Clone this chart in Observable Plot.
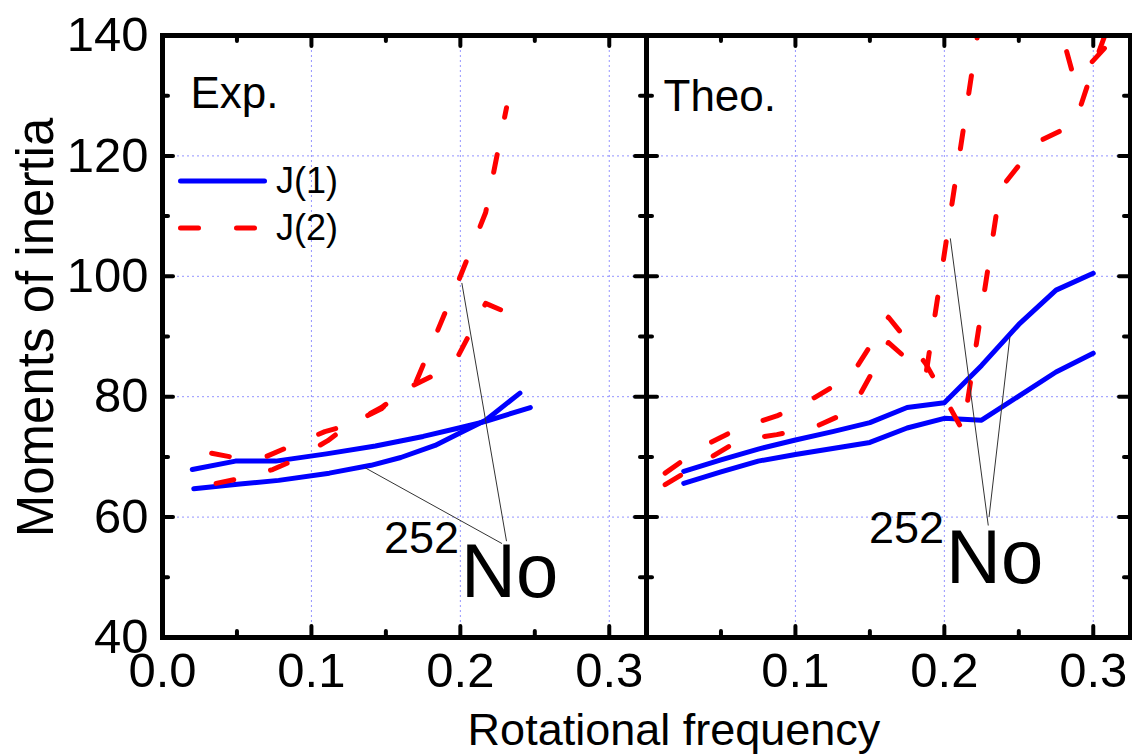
<!DOCTYPE html>
<html>
<head>
<meta charset="utf-8">
<script src="https://cdn.jsdelivr.net/npm/d3@7"></script>
<script src="https://cdn.jsdelivr.net/npm/@observablehq/plot@0.6"></script>
<style>
  html, body { margin: 0; padding: 0; background: #fff; }
  #chart svg { display: block; }
</style>
</head>
<body>
<div id="chart"></div>
<script>
// ---------- data ----------
const panels = ["Exp.", "Theo."];
const xTicks = [0, 0.1, 0.2, 0.3];
const xMinorTicks = [0.05, 0.15, 0.25];
const xTickLabelsExp = [0, 0.1, 0.2, 0.3];
const xTickLabelsTheo = [0.1, 0.2, 0.3];
const yTicks = [40, 60, 80, 100, 120, 140];
const yMinorTicks = [50, 70, 90, 110, 130];
const seriesNames = ["J(1)", "J(2)"];

// Experimental panel: [rotational frequency, moment of inertia]
const expJ1BandA = [[0.020,67.9],[0.049,69.3],[0.076,69.3],[0.11,70.5],[0.143,71.8],[0.175,73.4],[0.199,74.8],[0.217,75.9],[0.247,78.2]];
const expJ1BandB = [[0.021,64.7],[0.052,65.5],[0.078,66.1],[0.112,67.3],[0.14,68.6],[0.16,69.9],[0.183,71.9],[0.199,73.9],[0.217,76.1],[0.240,80.6]];
const expJ2BandA = [[0.033,70.6],[0.05,69.8],[0.07,70.1],[0.086,71.8],[0.109,74.2],[0.125,75.3],[0.147,78.2],[0.17,82.3],[0.2,100],[0.217,110.6],[0.231,128]];
const expJ2BandB = [[0.036,65.6],[0.052,66.4],[0.074,67.9],[0.088,69.4],[0.111,72.7],[0.125,75.3],[0.147,78.0],[0.161,81.0],[0.195,85.1],[0.217,95.5],[0.238,93.3]];

// Theoretical panel
const theoJ1BandA = [[0.025,67.6],[0.05,69.5],[0.075,71.3],[0.1,72.8],[0.125,74.2],[0.15,75.7],[0.175,78.2],[0.2,79.0],[0.225,85.2],[0.25,92.0],[0.275,97.7],[0.3,100.5]];
const theoJ1BandB = [[0.025,65.6],[0.05,67.5],[0.075,69.3],[0.1,70.4],[0.125,71.4],[0.15,72.4],[0.175,74.8],[0.2,76.4],[0.225,76.1],[0.25,80.1],[0.275,84.1],[0.3,87.2]];
const theoJ2BandA = [[0.0125,67.3],[0.0375,71.7],[0.0625,74.8],[0.0875,76.8],[0.1125,79.8],[0.1375,83.5],[0.1625,93.2],[0.1875,85.5],[0.2125,74.3],[0.2375,114.5],[0.2625,122.3],[0.2875,125.3],[0.302,136.1],[0.31,141.5]];
const theoJ2BandB = [[0.0125,65.4],[0.0375,69.1],[0.0625,72.8],[0.0875,73.7],[0.1125,74.9],[0.1375,77.7],[0.1625,89.0],[0.1875,83.5],[0.2125,124],[0.2375,165],[0.2625,155],[0.2875,132.5],[0.3125,139.2],[0.33,142]];

// annotation pointer lines for the "252No" labels
const pointerLines = [
  {panel: "Exp.",  x1: 0.136, y1: 68.2,  x2: 0.228, y2: 55.6},
  {panel: "Exp.",  x1: 0.201, y1: 98.9,  x2: 0.231, y2: 56.0},
  {panel: "Theo.", x1: 0.204, y1: 106.3, x2: 0.2295, y2: 58.6},
  {panel: "Theo.", x1: 0.244, y1: 89.9,  x2: 0.230, y2: 60.0}
];

// ---------- table ----------
function toRows(panel, series, band, pts) {
  return pts.map(([w, J]) => ({panel, series, key: panel + series + band, w, J}));
}
const rows = [
  ...toRows("Exp.", "J(1)", "A", expJ1BandA),
  ...toRows("Exp.", "J(1)", "B", expJ1BandB),
  ...toRows("Exp.", "J(2)", "A", expJ2BandA),
  ...toRows("Exp.", "J(2)", "B", expJ2BandB),
  ...toRows("Theo.", "J(1)", "A", theoJ1BandA),
  ...toRows("Theo.", "J(1)", "B", theoJ1BandB),
  ...toRows("Theo.", "J(2)", "A", theoJ2BandA),
  ...toRows("Theo.", "J(2)", "B", theoJ2BandB)
];
const xLabelRows = [
  ...xTickLabelsExp.map(v => ({panel: "Exp.", v})),
  ...xTickLabelsTheo.map(v => ({panel: "Theo.", v}))
];

// ---------- layout ----------
const W = 1132, H = 754, ML = 162, MR = 2, MT = 35, MB = 117;
const FW = (W - ML - MR) / 2;
const FH = H - MT - MB;
const FONT = "'Liberation Sans', Arial, Helvetica, sans-serif";
const BLUE = "#0000ff", RED = "#ff0000";
const DASH = "18,38";
const gridStyle = {stroke: "#8080ff", strokeWidth: 1, strokeDasharray: "2,3", strokeOpacity: 0.85};
const tickStyle = {stroke: "#000", strokeWidth: 4, strokeLinecap: "round"};
const majorLen = 11, minorLen = 6;
const fmt = d3.format(".1f");

const chart = Plot.plot({
  width: W, height: H,
  marginLeft: ML, marginRight: MR, marginTop: MT, marginBottom: MB,
  style: {fontFamily: FONT, fontSize: "49px", color: "#000", background: "#fff", overflow: "visible"},
  fx: {domain: panels, padding: 0, axis: null},
  x: {domain: [0, 0.325], axis: null},
  y: {domain: [40, 140], ticks: yTicks, tickSize: 0, tickPadding: 14, label: null},
  marks: [
    Plot.ruleX(xTicks.filter(d => d > 0), {x: d => d, ...gridStyle}),
    Plot.ruleY(yTicks.filter(d => d > 40 && d < 140), {y: d => d, ...gridStyle}),
    Plot.line(rows.filter(d => d.series === "J(1)"), {
      x: "w", y: "J", z: "key", fx: "panel", stroke: BLUE, strokeWidth: 5,
      strokeLinejoin: "round", strokeLinecap: "round", clip: true
    }),
    Plot.line(rows.filter(d => d.series === "J(2)"), {
      x: "w", y: "J", z: "key", fx: "panel", stroke: RED, strokeWidth: 5,
      strokeDasharray: DASH, strokeLinejoin: "round", strokeLinecap: "round", clip: true
    }),
    Plot.link(pointerLines, {x1: "x1", y1: "y1", x2: "x2", y2: "y2", fx: "panel", stroke: "#333", strokeWidth: 1}),
    // inward ticks: bottom & top
    Plot.tickX(xTicks, {x: d => d, insetTop: FH - majorLen, ...tickStyle}),
    Plot.tickX(xMinorTicks, {x: d => d, insetTop: FH - minorLen, ...tickStyle}),
    Plot.tickX(xTicks, {x: d => d, insetBottom: FH - majorLen, ...tickStyle}),
    Plot.tickX(xMinorTicks, {x: d => d, insetBottom: FH - minorLen, ...tickStyle}),
    // inward ticks: left & right
    Plot.tickY(yTicks, {y: d => d, insetRight: FW - majorLen, ...tickStyle}),
    Plot.tickY(yMinorTicks, {y: d => d, insetRight: FW - minorLen, ...tickStyle}),
    Plot.tickY(yTicks, {y: d => d, insetLeft: FW - majorLen, ...tickStyle}),
    Plot.tickY(yMinorTicks, {y: d => d, insetLeft: FW - minorLen, ...tickStyle}),
    Plot.frame({stroke: "#000", strokeWidth: 5}),
    // x tick labels (per panel)
    Plot.text(xLabelRows, {x: "v", fx: "panel", text: d => fmt(d.v), frameAnchor: "bottom", lineAnchor: "top", dy: 15, fontSize: 49, fill: "#000"}),
    Plot.text([{panel: "Exp."}], {fx: "panel", text: d => d.panel, frameAnchor: "top-left", textAnchor: "start", lineAnchor: "top", dx: 28, dy: 41, fontSize: 44, fill: "#000"}),
    Plot.text([{panel: "Theo."}], {fx: "panel", text: d => d.panel, frameAnchor: "top-left", textAnchor: "start", lineAnchor: "top", dx: 17, dy: 44, fontSize: 44, fill: "#000"})
  ]
});

document.getElementById("chart").appendChild(chart);

// ---------- titles, legend, labels ----------
const svg = d3.select(chart);
const g = svg.append("g").attr("font-family", FONT).attr("fill", "#000").attr("text-anchor", "start");

g.append("text")
  .attr("transform", "translate(53,327.5) rotate(-90)")
  .attr("text-anchor", "middle").attr("font-size", 51)
  .text("Moments of inertia");

g.append("text")
  .attr("x", 674).attr("y", 745)
  .attr("text-anchor", "middle").attr("font-size", 45)
  .text("Rotational frequency");

// legend
g.append("line").attr("x1", 180.5).attr("x2", 264.5).attr("y1", 181).attr("y2", 181)
  .attr("stroke", BLUE).attr("stroke-width", 5).attr("stroke-linecap", "round");
g.append("line").attr("x1", 180.5).attr("x2", 255.5).attr("y1", 228).attr("y2", 228)
  .attr("stroke", RED).attr("stroke-width", 5).attr("stroke-linecap", "round").attr("stroke-dasharray", DASH);
g.append("text").attr("x", 276).attr("y", 193).attr("font-size", 36).attr("text-anchor", "start").text(seriesNames[0]);
g.append("text").attr("x", 276).attr("y", 240).attr("font-size", 36).attr("text-anchor", "start").text(seriesNames[1]);

// 252No labels
function nucleus(x1, y1, x2, y2) {
  g.append("text").attr("x", x1).attr("y", y1).attr("font-size", 45).attr("text-anchor", "start").text("252");
  g.append("text").attr("x", x2).attr("y", y2).attr("font-size", 76).attr("text-anchor", "start").text("No");
}
nucleus(384, 553, 461, 597);
nucleus(869, 543, 946, 583);
</script>
</body>
</html>
